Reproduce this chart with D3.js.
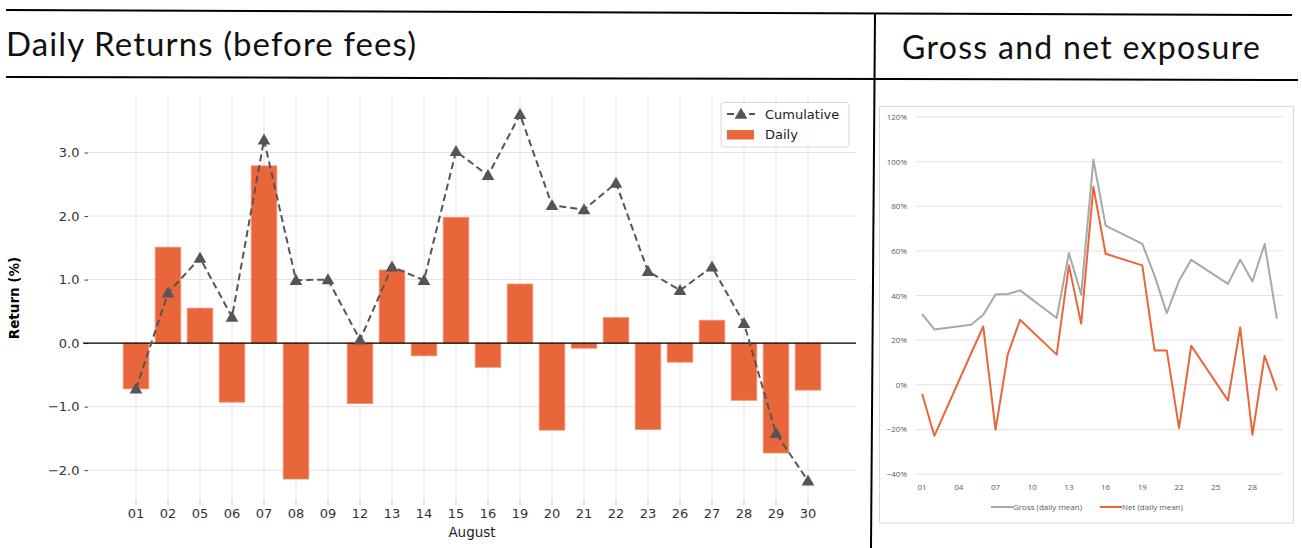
<!DOCTYPE html>
<html>
<head>
<meta charset="utf-8">
<script src="https://d3js.org/d3.v7.min.js"></script>
<style>
  body { margin: 0; background: #fff; }
</style>
</head>
<body>
<svg width="1302" height="548" id="mainsvg"></svg>
<script>
  // ---- data ----
  const days = ['01', '02', '05', '06', '07', '08', '09', '12', '13', '14', '15', '16', '19', '20', '21', '22', '23', '26', '27', '28', '29', '30'];
  const daily = [-0.72, 1.51, 0.55, -0.93, 2.79, -2.14, 0.0, -0.95, 1.15, -0.2, 1.98, -0.38, 0.93, -1.37, -0.08, 0.4, -1.36, -0.3, 0.36, -0.9, -1.73, -0.74];
  const cumulative = [-0.72, 0.79, 1.34, 0.41, 3.2, 0.99, 1.0, 0.05, 1.2, 0.99, 3.02, 2.64, 3.6, 2.17, 2.1, 2.52, 1.13, 0.83, 1.2, 0.31, -1.42, -2.17];
  const yTicks = [-2, -1, 0, 1, 2, 3];

  const expDays = [1, 2, 5, 6, 7, 8, 9, 12, 13, 14, 15, 16, 19, 20, 21, 22, 23, 26, 27, 28, 29, 30];
  const gross = [0.317, 0.248, 0.269, 0.314, 0.404, 0.407, 0.423, 0.299, 0.59, 0.404, 1.009, 0.713, 0.631, 0.489, 0.321, 0.466, 0.56, 0.452, 0.56, 0.463, 0.631, 0.296];
  const net = [-0.04, -0.229, 0.14, 0.261, -0.202, 0.135, 0.291, 0.135, 0.535, 0.274, 0.887, 0.587, 0.535, 0.154, 0.154, -0.194, 0.175, -0.07, 0.257, -0.224, 0.13, -0.025];
  const expYTicks = [-0.4, -0.2, 0, 0.2, 0.4, 0.6, 0.8, 1.0, 1.2];
  const expXTicks = [1, 4, 7, 10, 13, 16, 19, 22, 25, 28];

  const orange = '#e9663b';
  const svg = d3.select('#mainsvg');

  // ---- frame lines & titles ----
  svg.append('line').attr('x1', 6).attr('y1', 10).attr('x2', 1292).attr('y2', 15)
    .attr('stroke', '#000').attr('stroke-width', 2);
  svg.append('line').attr('x1', 6).attr('y1', 77).attr('x2', 1298).attr('y2', 80)
    .attr('stroke', '#000').attr('stroke-width', 2);
  svg.append('line').attr('x1', 875).attr('y1', 14).attr('x2', 871).attr('y2', 548)
    .attr('stroke', '#000').attr('stroke-width', 2);

  svg.append('text').attr('x', 6).attr('y', 56)
    .attr('font-family', 'Lato').attr('font-size', 33).attr('letter-spacing', 1.1).attr('fill', '#111')
    .text('Daily Returns (before fees)');
  svg.append('text').attr('x', 902).attr('y', 59)
    .attr('font-family', 'Lato').attr('font-size', 32).attr('letter-spacing', 1.3).attr('fill', '#111')
    .text('Gross and net exposure');

  // ---- left chart: daily returns ----
  const pLeft = 88, pRight = 856, pTop = 96, pBottom = 500;
  const x = d3.scaleBand().domain(days).range([pLeft, pRight])
    .paddingInner(0.2).paddingOuter(1.1);
  const y = d3.scaleLinear().domain([-2.47, 3.89]).range([pBottom, pTop]);
  const xc = d => x(d) + x.bandwidth() / 2;

  const g = svg.append('g').attr('font-family', 'DejaVu Sans');

  // grid
  g.append('g').selectAll('line').data(days).join('line')
    .attr('x1', xc).attr('x2', xc).attr('y1', pTop).attr('y2', pBottom + 5)
    .attr('stroke', '#e3e3e3').attr('stroke-width', 1);
  g.append('g').selectAll('line').data(yTicks).join('line')
    .attr('x1', pLeft).attr('x2', pRight).attr('y1', d => y(d)).attr('y2', d => y(d))
    .attr('stroke', '#e3e3e3').attr('stroke-width', 1);

  // y axis
  const yAxis = g.append('g').attr('transform', `translate(${pLeft},0)`)
    .call(d3.axisLeft(y).tickValues(yTicks).tickFormat(d3.format('.1f')).tickSize(3.5).tickPadding(5));
  yAxis.select('.domain').remove();
  yAxis.selectAll('.tick line').attr('stroke', '#444');
  yAxis.selectAll('.tick text').attr('font-size', 13).attr('fill', '#333').attr('font-family', 'DejaVu Sans');

  // x axis
  const xAxis = g.append('g').attr('transform', `translate(0,${pBottom})`)
    .call(d3.axisBottom(x).tickSize(5).tickPadding(4));
  xAxis.select('.domain').remove();
  xAxis.selectAll('.tick line').attr('stroke', '#cfcfcf');
  xAxis.selectAll('.tick text').attr('font-size', 13).attr('fill', '#333').attr('font-family', 'DejaVu Sans');

  g.append('text').attr('x', (pLeft + pRight) / 2).attr('y', 537)
    .attr('text-anchor', 'middle').attr('font-size', 13.5).attr('fill', '#222').text('August');
  g.append('text').attr('transform', 'translate(19,298) rotate(-90)')
    .attr('text-anchor', 'middle').attr('font-size', 13.5).attr('font-weight', 'bold').attr('fill', '#000')
    .text('Return (%)');

  // bars
  g.append('g').selectAll('rect').data(days).join('rect')
    .attr('x', d => x(d))
    .attr('width', x.bandwidth())
    .attr('y', (d, i) => y(Math.max(0, daily[i])))
    .attr('height', (d, i) => Math.abs(y(daily[i]) - y(0)))
    .attr('fill', orange)
    .attr('stroke', '#f2906d').attr('stroke-width', 0.8);

  // zero line
  g.append('line').attr('x1', pLeft - 5).attr('x2', pRight).attr('y1', y(0)).attr('y2', y(0))
    .attr('stroke', '#000').attr('stroke-width', 1.3);

  // cumulative line
  const cumLine = d3.line().x((d, i) => xc(days[i])).y(d => y(d));
  g.append('path').datum(cumulative).attr('d', cumLine)
    .attr('fill', 'none').attr('stroke', '#555').attr('stroke-width', 2)
    .attr('stroke-dasharray', '7,4');
  const tri = d3.symbol().type(d3.symbolTriangle).size(70);
  g.append('g').selectAll('path').data(cumulative).join('path')
    .attr('d', tri)
    .attr('transform', (d, i) => `translate(${xc(days[i])},${y(d) + 1})`)
    .attr('fill', '#555');

  // legend
  const lg = g.append('g');
  lg.append('rect').attr('x', 721).attr('y', 102.5).attr('width', 128).attr('height', 44.5)
    .attr('rx', 3).attr('fill', '#fff').attr('fill-opacity', 0.85)
    .attr('stroke', '#d8d8d8').attr('stroke-width', 1);
  lg.append('line').attr('x1', 727).attr('x2', 755).attr('y1', 114).attr('y2', 114)
    .attr('stroke', '#555').attr('stroke-width', 2).attr('stroke-dasharray', '7,4');
  lg.append('path').attr('d', tri).attr('transform', 'translate(741,115)').attr('fill', '#555');
  lg.append('text').attr('x', 765).attr('y', 118.5).attr('font-size', 13).attr('fill', '#222').text('Cumulative');
  lg.append('rect').attr('x', 727).attr('y', 130).attr('width', 27).attr('height', 9.5).attr('fill', orange);
  lg.append('text').attr('x', 765).attr('y', 138.5).attr('font-size', 13).attr('fill', '#222').text('Daily');

  // ---- right chart: exposure ----
  const r = svg.append('g').attr('font-family', 'Open Sans');
  r.append('rect').attr('x', 879.5).attr('y', 106.5).attr('width', 414).attr('height', 416.5)
    .attr('fill', '#fff').attr('stroke', '#d9d9d9').attr('stroke-width', 1);

  const ex = d3.scaleLinear().domain([0.5, 30.5]).range([916, 1283]);
  const ey = d3.scaleLinear().domain([-0.4, 1.2]).range([474, 117]);

  r.append('g').selectAll('line').data(expYTicks).join('line')
    .attr('x1', 916).attr('x2', 1283).attr('y1', d => ey(d)).attr('y2', d => ey(d))
    .attr('stroke', '#e2e2e2').attr('stroke-width', 1);
  r.append('g').selectAll('text').data(expYTicks).join('text')
    .attr('x', 907).attr('y', d => ey(d) + 3)
    .attr('text-anchor', 'end').attr('font-size', 8).attr('fill', '#595959')
    .text(d => d3.format('.0%')(d));
  r.append('g').selectAll('text').data(expXTicks).join('text')
    .attr('x', d => ex(d)).attr('y', 490)
    .attr('text-anchor', 'middle').attr('font-size', 8).attr('fill', '#595959')
    .text(d => d3.format('02d')(d));

  const eLine = d3.line().x((d, i) => ex(expDays[i])).y(d => ey(d));
  r.append('path').datum(gross).attr('d', eLine)
    .attr('fill', 'none').attr('stroke', '#a8a8a8').attr('stroke-width', 2).attr('stroke-linejoin', 'round');
  r.append('path').datum(net).attr('d', eLine)
    .attr('fill', 'none').attr('stroke', orange).attr('stroke-width', 2).attr('stroke-linejoin', 'round');

  // exposure legend
  r.append('line').attr('x1', 991).attr('x2', 1013).attr('y1', 507).attr('y2', 507)
    .attr('stroke', '#a8a8a8').attr('stroke-width', 2);
  r.append('text').attr('x', 1013).attr('y', 510).attr('font-size', 8).attr('fill', '#595959')
    .text('Gross (daily mean)');
  r.append('line').attr('x1', 1100).attr('x2', 1122).attr('y1', 507).attr('y2', 507)
    .attr('stroke', orange).attr('stroke-width', 2);
  r.append('text').attr('x', 1122).attr('y', 510).attr('font-size', 8).attr('fill', '#595959')
    .text('Net (daily mean)');
</script>
</body>
</html>
